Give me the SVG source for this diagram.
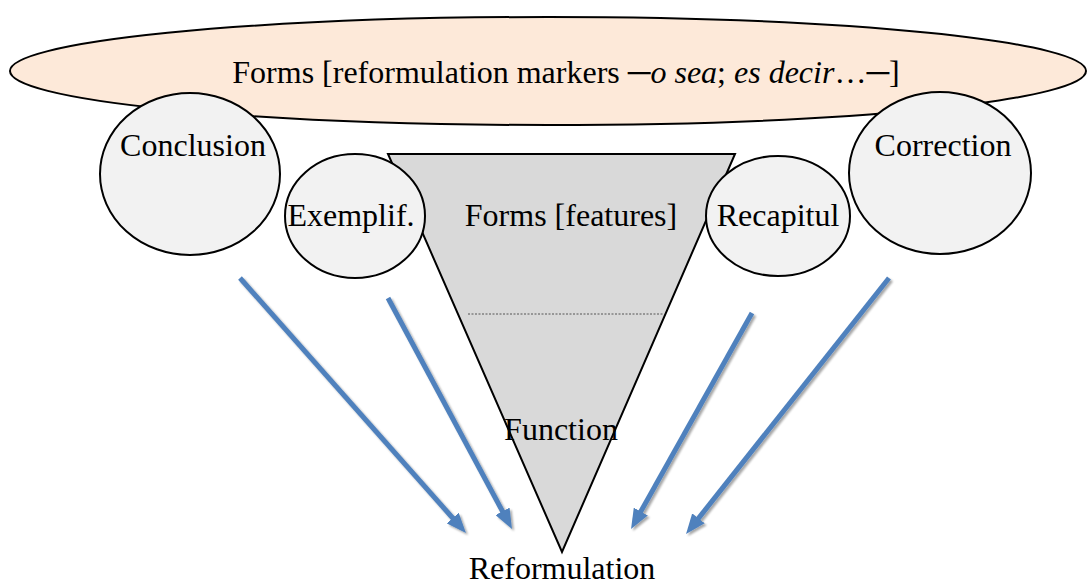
<svg xmlns="http://www.w3.org/2000/svg" width="1088" height="584" viewBox="0 0 1088 584">
  <style>
    text { font-family: "Liberation Serif", Tinos, "Times New Roman", "DejaVu Serif", serif; font-size: 32px; fill: #000; text-anchor: middle; }
    .bubble { fill: #f2f2f2; stroke: #000; stroke-width: 2; }
    .arrow { stroke: #4f81bd; stroke-width: 5; fill: none; marker-end: url(#head); filter: url(#shadow); }
  </style>
  <defs>
    <marker id="head" markerUnits="userSpaceOnUse" markerWidth="20" markerHeight="16" refX="8" refY="8" orient="auto">
      <path d="M0,0 L20,8 L0,16 Z" fill="#4f81bd"/>
    </marker>
    <filter id="shadow" x="-20%" y="-20%" width="140%" height="140%">
      <feGaussianBlur in="SourceAlpha" stdDeviation="1.2"/>
      <feOffset dx="1.5" dy="2" result="b"/>
      <feComponentTransfer><feFuncA type="linear" slope="0.35"/></feComponentTransfer>
      <feMerge><feMergeNode/><feMergeNode in="SourceGraphic"/></feMerge>
    </filter>
  </defs>

  <!-- outer band of reformulation markers -->
  <g id="markers">
    <ellipse cx="548" cy="71" rx="538" ry="54" fill="#fde9d9" stroke="#000" stroke-width="2"/>
    <text x="566" y="83" font-family="Liberation Serif, serif">Forms [reformulation markers ─<tspan font-style="italic">o sea</tspan>; <tspan font-style="italic">es decir</tspan>…─]</text>
  </g>

  <!-- funnel: forms narrowing to function -->
  <g id="funnel">
    <path d="M388,154 L735,154 L562,552 Z" fill="#d9d9d9" stroke="#000" stroke-width="2"/>
    <line x1="468" y1="314" x2="663" y2="314" stroke="#555" stroke-width="1" stroke-dasharray="2,1.5"/>
    <text x="571" y="226">Forms [features]</text>
    <text x="561" y="440">Function</text>
  </g>

  <g id="conclusion">
    <ellipse class="bubble" cx="190" cy="174" rx="90" ry="81"/>
    <text x="193" y="156">Conclusion</text>
  </g>
  <g id="exemplification">
    <ellipse class="bubble" cx="355" cy="216" rx="70" ry="62"/>
    <text x="351" y="226">Exemplif.</text>
  </g>
  <g id="recapitulation">
    <ellipse class="bubble" cx="778" cy="216" rx="72" ry="60"/>
    <text x="778" y="226">Recapitul</text>
  </g>
  <g id="correction">
    <ellipse class="bubble" cx="940" cy="173" rx="91" ry="81"/>
    <text x="943" y="156">Correction</text>
  </g>

  <g id="reformulation">
    <text x="562" y="579">Reformulation</text>
  </g>

  <!-- connectors -->
  <g id="connectors">
    <line class="arrow" x1="240" y1="278" x2="458" y2="524"/>
    <line class="arrow" x1="388" y1="298" x2="506.3" y2="518.4"/>
    <line class="arrow" x1="752" y1="313" x2="636.9" y2="518.5"/>
    <line class="arrow" x1="889" y1="278" x2="693.5" y2="524.6"/>
  </g>
</svg>
